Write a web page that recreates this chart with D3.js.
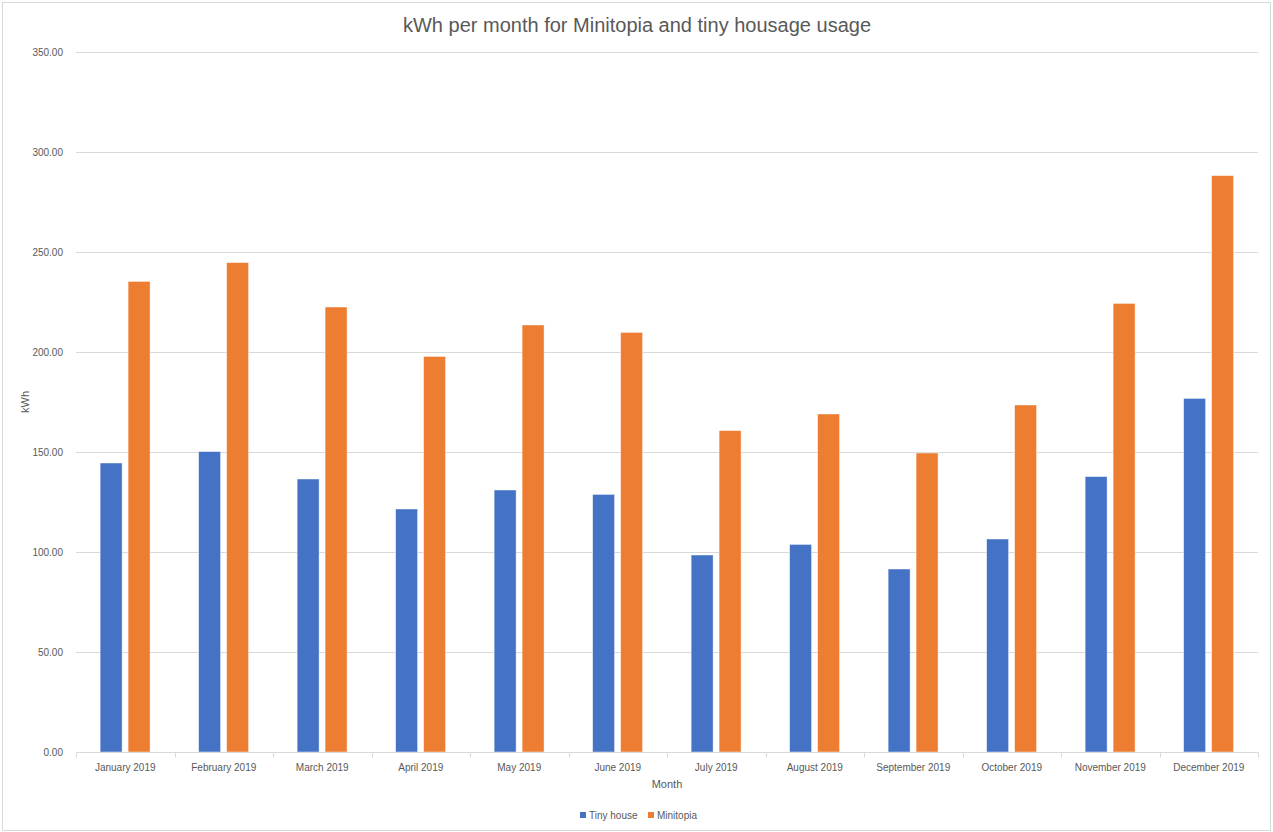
<!DOCTYPE html>
<html>
<head>
<meta charset="utf-8">
<script src="https://cdnjs.cloudflare.com/ajax/libs/d3/7.8.5/d3.min.js"></script>
<style>
  body { margin: 0; background: #fff; }
  text { font-family: "Liberation Sans", "DejaVu Sans", sans-serif; fill: #595959; }
</style>
</head>
<body>
<div id="chart"></div>
<script>

// months on the x axis
var months = [
  'January 2019', 'February 2019', 'March 2019', 'April 2019',
  'May 2019', 'June 2019', 'July 2019', 'August 2019',
  'September 2019', 'October 2019', 'November 2019', 'December 2019'
];

// series names, in legend order
var seriesNames = ['Tiny house', 'Minitopia'];

// kWh values
var tinyHouse = [144.5, 150.2, 136.5, 121.5, 131.0, 128.8, 98.5, 103.8, 91.5, 106.5, 137.7, 176.8];
var minitopia = [235.3, 244.7, 222.5, 197.8, 213.5, 209.8, 160.7, 169.0, 149.5, 173.5, 224.3, 288.2];

// y tick values
var yTicks = [0, 50, 100, 150, 200, 250, 300, 350];

var colors = ['#4472C4', '#ED7D31'];

var width = 1273, height = 832;
var margin = {top: 52, right: 15, bottom: 80, left: 76};

var svg = d3.select('#chart').append('svg')
  .attr('width', width)
  .attr('height', height);

// light chart border
svg.append('rect')
  .attr('x', 2.5).attr('y', 2.5)
  .attr('width', width - 5).attr('height', height - 4)
  .attr('fill', 'none')
  .attr('stroke', '#d9d9d9');

var x = d3.scaleBand()
  .domain(months)
  .range([margin.left, width - margin.right])
  .padding(0);

// inner scale places the two bars inside each month
var bw = x.bandwidth();
var xInner = d3.scaleBand()
  .domain(seriesNames)
  .range([bw * 0.245, bw * 0.752])
  .paddingInner(0.214);

var y = d3.scaleLinear()
  .domain([0, 350])
  .range([height - margin.bottom, margin.top]);

// gridlines
svg.append('g')
  .selectAll('line')
  .data(yTicks.slice(1))
  .enter().append('line')
    .attr('x1', margin.left)
    .attr('x2', width - margin.right)
    .attr('y1', function(d) { return Math.round(y(d)) + 0.5; })
    .attr('y2', function(d) { return Math.round(y(d)) + 0.5; })
    .attr('stroke', '#d9d9d9');

// y axis labels (no axis line)
var yAxis = svg.append('g')
  .attr('transform', 'translate(' + (margin.left - 10) + ',0.5)')
  .call(d3.axisLeft(y).tickValues(yTicks).tickSize(0).tickFormat(d3.format('.2f')));
yAxis.select('.domain').remove();
yAxis.selectAll('text')
  .attr('font-size', 10)
  .attr('fill', '#595959')
  .style('font-family', '"Liberation Sans", sans-serif');

// bar data built from the arrays
var rows = months.map(function(m, i) {
  return {month: m, values: [
    {name: seriesNames[0], value: tinyHouse[i]},
    {name: seriesNames[1], value: minitopia[i]}
  ]};
});

var groups = svg.append('g')
  .selectAll('g')
  .data(rows)
  .enter().append('g')
    .attr('transform', function(d) { return 'translate(' + x(d.month) + ',0)'; });

groups.selectAll('rect')
  .data(function(d) { return d.values; })
  .enter().append('rect')
    .attr('x', function(d) { return xInner(d.name); })
    .attr('y', function(d) { return y(d.value); })
    .attr('width', xInner.bandwidth())
    .attr('height', function(d) { return y(0) - y(d.value); })
    .attr('fill', function(d, i) { return colors[i]; })
    .attr('stroke', '#fff')
    .attr('stroke-opacity', 0.6)
    .attr('stroke-width', 0.75);

// x axis with tick marks at month boundaries
var axisY = Math.round(y(0)) + 0.5;
var xAxis = svg.append('g');
xAxis.append('line')
  .attr('x1', margin.left).attr('x2', width - margin.right)
  .attr('y1', axisY).attr('y2', axisY)
  .attr('stroke', '#d9d9d9');

var bounds = months.map(function(m) { return x(m); }).concat([x.range()[1]]);
xAxis.selectAll('.tick-mark')
  .data(bounds)
  .enter().append('line')
    .attr('class', 'tick-mark')
    .attr('x1', function(d) { return Math.round(d) + 0.5; })
    .attr('x2', function(d) { return Math.round(d) + 0.5; })
    .attr('y1', axisY).attr('y2', axisY + 5)
    .attr('stroke', '#d9d9d9');

xAxis.selectAll('.month-label')
  .data(months)
  .enter().append('text')
    .attr('class', 'month-label')
    .attr('x', function(d) { return x(d) + bw / 2; })
    .attr('y', axisY + 18)
    .attr('text-anchor', 'middle')
    .attr('font-size', 10)
    .text(function(d) { return d; });

// title
svg.append('text')
  .attr('x', 637)
  .attr('y', 32)
  .attr('text-anchor', 'middle')
  .attr('font-size', 20)
  .text('kWh per month for Minitopia and tiny housage usage');

// axis titles
svg.append('text')
  .attr('x', (margin.left + width - margin.right) / 2)
  .attr('y', 788)
  .attr('text-anchor', 'middle')
  .attr('font-size', 11)
  .text('Month');

svg.append('text')
  .attr('transform', 'translate(29,' + ((margin.top + height - margin.bottom) / 2) + ') rotate(-90)')
  .attr('text-anchor', 'middle')
  .attr('font-size', 11)
  .text('kWh');

// legend
var legend = svg.append('g')
  .attr('transform', 'translate(580,816)');

var legendItems = legend.selectAll('g')
  .data(seriesNames)
  .enter().append('g')
    .attr('transform', function(d, i) { return 'translate(' + (i * 68) + ',0)'; });

legendItems.append('rect')
  .attr('x', 0).attr('y', -4)
  .attr('width', 6).attr('height', 6)
  .attr('fill', function(d, i) { return colors[i]; });

legendItems.append('text')
  .attr('x', 9)
  .attr('y', 3)
  .attr('font-size', 10)
  .text(function(d) { return d; });

</script>
</body>
</html>
